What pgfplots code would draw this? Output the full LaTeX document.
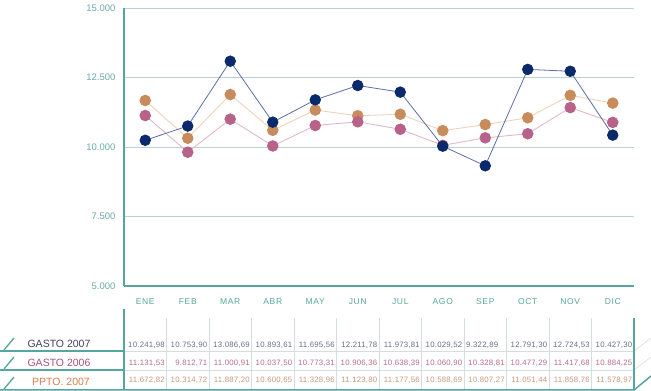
\documentclass[border=0pt]{standalone}
\usepackage{fontspec}
\setmainfont{Liberation Sans}
\newfontfamily\monthfont[LetterSpace=8]{Liberation Sans}
\newfontfamily\valfont[LetterSpace=3]{Liberation Sans}
\usepackage{pgfplots}
\pgfplotsset{compat=1.18}
\definecolor{tealax}{HTML}{55A69E}
\definecolor{gridc}{HTML}{BCD3D6}
\definecolor{tickc}{HTML}{6BABA8}
\definecolor{navym}{HTML}{0B2A6B}
\definecolor{navyl}{HTML}{5C6EA6}
\definecolor{pinkm}{HTML}{B8628A}
\definecolor{pinkl}{HTML}{E2B8C8}
\definecolor{tanm}{HTML}{C88C5C}
\definecolor{tanl}{HTML}{EED3BC}
\definecolor{lab1}{HTML}{3E4260}
\definecolor{lab2}{HTML}{A5527E}
\definecolor{lab3}{HTML}{D5804F}
\definecolor{val1}{HTML}{6A6E86}
\definecolor{val2}{HTML}{B56A8A}
\definecolor{val3}{HTML}{C9967A}
\definecolor{divc}{HTML}{D3DEDE}
\begin{document}
\begin{tikzpicture}[x=1pt,y=1pt]
\useasboundingbox (0,0) rectangle (651,391);
\begin{axis}[
  at={(124pt,105pt)}, anchor=south west, scale only axis,
  width=510pt, height=278pt,
  xmin=-0.5, xmax=11.5, ymin=5000, ymax=15000,
  axis x line=bottom, axis y line=left,
  axis line style={-},
  x axis line style={draw=tealax, line width=1.3pt},
  y axis line style={draw=tealax, line width=2pt},
  ytick={5000,7500,10000,12500,15000},
  scaled y ticks=false,
  xtick={0,...,11},
  xticklabels={ENE,FEB,MAR,ABR,MAY,JUN,JUL,AGO,SEP,OCT,NOV,DIC},
  major tick length=0pt,
  ymajorgrids, grid style={draw=gridc, line width=0.8pt},
  yticklabel style={font=\fontsize{9.5}{10}\selectfont, text=tickc, xshift=-5pt},
  xticklabel style={font=\monthfont\fontsize{8.5}{10}\selectfont, text=tealax, yshift=-9pt},
  clip=false,
  /pgf/number format/.cd, fixed, precision=0, 1000 sep={.}, assume math mode=true
]
\addplot[draw=tanl, line width=0.9pt, mark=*, mark size=5.3pt, mark options={draw=tanm, fill=tanm}] coordinates {
(0,11672.82) (1,10314.72) (2,11887.20) (3,10600.65) (4,11328.96) (5,11123.80) (6,11177.56) (7,10588.69) (8,10807.27) (9,11051.44) (10,11858.76) (11,11578.97)};
\addplot[draw=pinkl, line width=0.9pt, mark=*, mark size=5.3pt, mark options={draw=pinkm, fill=pinkm}] coordinates {
(0,11131.53) (1,9812.71) (2,11000.91) (3,10037.50) (4,10773.31) (5,10906.36) (6,10638.39) (7,10060.90) (8,10328.81) (9,10477.29) (10,11417.68) (11,10884.25)};
\addplot[draw=navyl, line width=0.8pt, mark=*, mark size=5.3pt, mark options={draw=navym, fill=navym}] coordinates {
(0,10241.98) (1,10753.90) (2,13086.69) (3,10893.61) (4,11695.56) (5,12211.78) (6,11973.81) (7,10029.52) (8,9322.89) (9,12791.30) (10,12724.53) (11,10427.30)};
\end{axis}
% table grid
\foreach \k in {1,...,11} {\draw[divc, line width=0.6pt] (124+42.5*\k,73) -- (124+42.5*\k,1);}
\draw[divc, line width=0.6pt] (124,40) -- (634,40);
\draw[divc, line width=0.6pt] (124,21) -- (634,21);
\draw[divc, line width=0.6pt] (634,40) -- (651,53);
\draw[divc, line width=0.6pt] (634,21) -- (651,34);
\draw[tealax, line width=2pt] (124,82) -- (124,0.5);
\draw[tealax, line width=1.5pt] (634,73) -- (634,1);
\draw[tealax, line width=1.5pt] (0,40) -- (124,40);
\draw[tealax, line width=1.5pt] (0,21) -- (124,21);
\draw[tealax, line width=1.5pt] (0,1) -- (634,1) -- (651,15);
\foreach \yy in {40,21,1} {\draw[tealax, line width=1.3pt] (4,\yy+1) -- (14,\yy+13);}
% row labels
\node[font=\fontsize{10.5}{12}\selectfont, text=lab1] at (59,47.3) {GASTO 2007};
\node[font=\fontsize{10.5}{12}\selectfont, text=lab2] at (59,28.3) {GASTO 2006};
\node[font=\fontsize{10.5}{12}\selectfont, text=lab3] at (61,9) {PPTO. 2007};
% values
\foreach \v [count=\i from 1] in {{10.241,98},{10.753,90},{13.086,69},{10.893,61},{11.695,56},{12.211,78},{11.973,81},{10.029,52},{},{12.791,30},{12.724,53},{10.427,30}}
  {\node[anchor=east, inner sep=0pt, font=\valfont\fontsize{7.8}{9}\selectfont, text=val1] at (124+42.5*\i-1.5,46) {\v};}
\node[anchor=west, inner sep=0pt, font=\valfont\fontsize{7.8}{9}\selectfont, text=val1] at (124+42.5*8+2,46) {9.322,89};
\foreach \v [count=\i from 1] in {{11.131,53},{9.812,71},{11.000,91},{10.037,50},{10.773,31},{10.906,36},{10.638,39},{10.060,90},{10.328,81},{10.477,29},{11.417,68},{10.884,25}}
  {\node[anchor=east, inner sep=0pt, font=\valfont\fontsize{7.8}{9}\selectfont, text=val2] at (124+42.5*\i-1.5,28) {\v};}
\foreach \v [count=\i from 1] in {{11.672,82},{10.314,72},{11.887,20},{10.600,65},{11.328,96},{11.123,80},{11.177,56},{10.588,69},{10.807,27},{11.051,44},{11.858,76},{11.578,97}}
  {\node[anchor=east, inner sep=0pt, font=\valfont\fontsize{7.8}{9}\selectfont, text=val3] at (124+42.5*\i-1.5,11) {\v};}
\end{tikzpicture}
\end{document}
